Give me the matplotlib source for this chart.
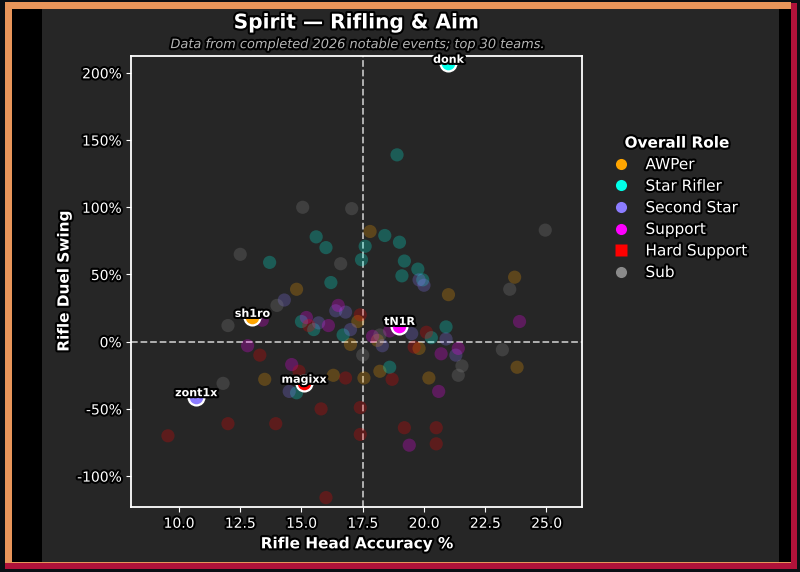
import matplotlib
matplotlib.use('Agg')
import matplotlib.pyplot as plt
import matplotlib.patheffects as pe
from matplotlib.lines import Line2D
from matplotlib.patches import Rectangle

# Role colours
roles = ['AWPer', 'Star Rifler', 'Second Star', 'Support', 'Hard Support', 'Sub']
role_colors = ['#FFA500', '#00FFE8', '#8C7CFF', '#FF00FF', '#FF0000', '#8A8A8A']

# Background players (other teams)
awp_x = [13.5, 17.8, 17.55, 18.2, 18.1, 17.3, 14.8, 21.0, 23.7, 23.8, 20.2, 17.0, 19.8, 16.3]
awp_y = [-28, 82, -27, -22, 1, 15, 39, 35, 48, -19, -27, -2, -5, -25]

star_x = [18.9, 13.7, 15.6, 16.0, 15.0, 18.4, 19.0, 19.2, 19.1, 19.75, 19.95, 17.6, 17.45, 16.2,
          15.5, 14.8, 18.6, 20.9, 16.7, 20.3]
star_y = [139, 59, 78, 70, 15, 79, 74, 60, 49, 54, 46, 71, 61, 44,
          9, -38, -19, 11, 5, 3]

second_x = [14.3, 16.8, 19.8, 20.0, 14.5, 17.0, 19.5, 21.3, 16.4, 18.3, 15.7, 20.9]
second_y = [31, 22, 46, 42, -37, 9, 6, -10, 23, -3, 14, 2]

support_x = [13.4, 16.5, 23.9, 19.4, 20.6, 16.1, 14.6, 18.6, 21.4, 15.2, 17.9, 12.8, 20.7]
support_y = [16, 27, 15, -77, -37, 12, -17, 8, -5, 18, 4, -3, -9]

hard_x = [9.55, 12.0, 13.95, 15.8, 17.4, 17.4, 19.2, 20.5, 20.5, 16.0, 20.1, 17.4, 15.3,
          16.8, 14.9, 18.7, 19.6, 13.3]
hard_y = [-70, -61, -61, -50, -49, -69, -64, -64, -76, -116, 7, 20, 12,
          -27, -22, -28, -4, -10]

sub_x = [15.05, 17.05, 12.5, 12.0, 24.95, 11.8, 23.5, 23.2, 21.55, 16.6, 17.5, 14.0, 21.4, 18.2]
sub_y = [100, 99, 65, 12, 83, -31, 39, -6, -18, 58, -10, 27, -25, 5]

bg_x = [awp_x, star_x, second_x, support_x, hard_x, sub_x]
bg_y = [awp_y, star_y, second_y, support_y, hard_y, sub_y]

# Spirit players
spirit_names = ['donk', 'sh1ro', 'zont1x', 'magixx', 'tN1R']
spirit_roles = ['Star Rifler', 'AWPer', 'Second Star', 'Hard Support', 'Support']
spirit_x = [21.0, 13.0, 10.7, 15.1, 19.0]
spirit_y = [207, 18, -41, -31, 12]

bg = '#262626'
fig = plt.figure(figsize=(8, 5.72), dpi=100)
fig.patch.set_facecolor(bg)

# window frame around the chart
frame = [
    (0.0, 0.0, 1.0, 1.0, '#0b0f14'),
    (0.006, 0.006, 0.99, 0.988, '#b0123a'),
    (0.006, 0.015, 0.983, 0.982, '#e8955a'),
    (0.015, 0.018, 0.974, 0.966, '#000000'),
    (0.052, 0.018, 0.922, 0.966, bg),
]
for x0, y0, w, h, c in frame:
    fig.patches.append(Rectangle((x0, y0), w, h, transform=fig.transFigure,
                                 facecolor=c, edgecolor='none', zorder=-10))

ax = fig.add_axes([0.164, 0.1136, 0.5635, 0.7884])
ax.set_facecolor(bg)

stroke = [pe.withStroke(linewidth=3, foreground='black')]

for i, role in enumerate(roles):
    ax.scatter(bg_x[i], bg_y[i], s=90, color=role_colors[i], alpha=0.25,
               edgecolors='none', zorder=2)

for name, role, x, y in zip(spirit_names, spirit_roles, spirit_x, spirit_y):
    c = role_colors[roles.index(role)]
    ax.scatter([x], [y], s=130, color=c, edgecolors='white', linewidths=1.6, zorder=5)
    ax.annotate(name, (x, y), xytext=(0, -1), textcoords='offset points',
                ha='center', va='bottom', color='white', fontsize=8,
                fontweight='bold', path_effects=stroke, zorder=6)

ax.axvline(17.5, color='#bbbbbb', linestyle='--', linewidth=1.3, zorder=1)
ax.axhline(0, color='#bbbbbb', linestyle='--', linewidth=1.3, zorder=1)

ax.set_xlim(8.05, 26.45)
ax.set_ylim(-123, 212.5)
ax.set_xticks([10, 12.5, 15, 17.5, 20, 22.5, 25])
ax.set_xticklabels(['10.0', '12.5', '15.0', '17.5', '20.0', '22.5', '25.0'])
ax.set_yticks([-100, -50, 0, 50, 100, 150, 200])
ax.set_yticklabels([f'{v}%' for v in [-100, -50, 0, 50, 100, 150, 200]])
ax.tick_params(colors='white', labelsize=10)
for lab in ax.get_xticklabels() + ax.get_yticklabels():
    lab.set_path_effects(stroke)
for sp in ax.spines.values():
    sp.set_color('white')
    sp.set_linewidth(1.3)

ax.set_xlabel('Rifle Head Accuracy %', color='white', fontsize=11,
              fontweight='bold', path_effects=stroke)
ax.set_ylabel('Rifle Duel Swing', color='white', fontsize=11,
              fontweight='bold', path_effects=stroke)

fig.text(0.446, 0.96, 'Spirit — Rifling & Aim', ha='center', va='center',
         color='white', fontsize=14.5, fontweight='bold', path_effects=stroke)
fig.text(0.446, 0.922, 'Data from completed 2026 notable events; top 30 teams.',
         ha='center', va='center', color='#b5b5b5', fontsize=9.3, style='italic',
         path_effects=stroke)

handles = []
for role, c in zip(roles, role_colors):
    m = 's' if role == 'Hard Support' else 'o'
    handles.append(Line2D([], [], linestyle='none', marker=m, markersize=8,
                          markerfacecolor=c, markeredgecolor='none'))
leg = fig.legend(handles, roles, title='Overall Role', loc='upper left',
                 bbox_to_anchor=(0.74, 0.787), frameon=False, fontsize=11,
                 title_fontproperties={'weight': 'bold', 'size': 11},
                 labelspacing=0.43, handletextpad=0.6)
leg.get_title().set_color('white')
leg.get_title().set_path_effects(stroke)
for t in leg.get_texts():
    t.set_color('white')
    t.set_path_effects(stroke)

fig.savefig('out.png', dpi=100, facecolor=fig.get_facecolor())
